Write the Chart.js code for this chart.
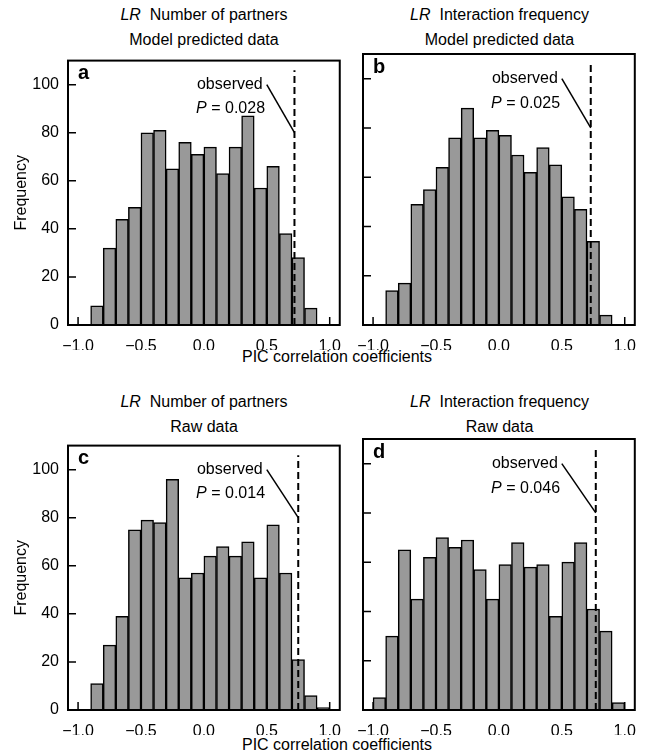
<!DOCTYPE html>
<html>
<head>
<meta charset="utf-8">
<script src="https://cdn.jsdelivr.net/npm/chart.js@4"></script>
<style>
  html, body { margin: 0; padding: 0; background: #fff; }
  body { width: 646px; height: 756px; position: relative; overflow: hidden;
         font-family: "Liberation Sans", Arial, sans-serif; color: #000; }
  canvas { position: absolute; }
  .ttl { position: absolute; text-align: center; font-size: 16px; line-height: 25px; }
  .xlab { position: absolute; width: 300px; text-align: center; font-size: 16px; line-height: 20px; }
</style>
</head>
<body>

<div class="ttl" style="left:68px;width:272px;top:2px">
  <div><i>LR</i>&nbsp; Number of partners</div><div>Model predicted data</div>
</div>
<div class="ttl" style="left:363px;width:273px;top:2px">
  <div><i>LR</i>&nbsp; Interaction frequency</div><div>Model predicted data</div>
</div>
<div class="ttl" style="left:68px;width:272px;top:389px">
  <div><i>LR</i>&nbsp; Number of partners</div><div>Raw data</div>
</div>
<div class="ttl" style="left:363px;width:273px;top:389px">
  <div><i>LR</i>&nbsp; Interaction frequency</div><div>Raw data</div>
</div>
<div class="xlab" style="left:187px;top:347px">PIC correlation coefficients</div>
<div class="xlab" style="left:187px;top:735px">PIC correlation coefficients</div>

<canvas id="pa" style="left:0px;top:50px" width="345" height="300"></canvas>
<canvas id="pb" style="left:340px;top:50px" width="300" height="300"></canvas>
<canvas id="pc" style="left:0px;top:435px" width="345" height="300"></canvas>
<canvas id="pd" style="left:340px;top:435px" width="300" height="300"></canvas>

<script>
// bin centres (bin width 0.1)
const binsAB = [-0.85, -0.75, -0.65, -0.55, -0.45, -0.35, -0.25, -0.15, -0.05,
                0.05, 0.15, 0.25, 0.35, 0.45, 0.55, 0.65, 0.75, 0.85];
const binsC = [-0.85, -0.75, -0.65, -0.55, -0.45, -0.35, -0.25, -0.15, -0.05,
               0.05, 0.15, 0.25, 0.35, 0.45, 0.55, 0.65, 0.75, 0.85, 0.95];
const binsD = [-0.95, -0.85, -0.75, -0.65, -0.55, -0.45, -0.35, -0.25, -0.15, -0.05,
               0.05, 0.15, 0.25, 0.35, 0.45, 0.55, 0.65, 0.75, 0.85, 0.95];

// frequencies per bin
const countsA = [8, 32, 44, 49, 80, 81, 65, 76, 71, 74, 63, 74, 87, 57, 66, 38, 28, 7];
const countsB = [14, 17, 49, 55, 64, 76, 88, 76, 79, 77, 69, 62, 72, 65, 52, 47, 34, 4];
const countsC = [11, 27, 39, 75, 79, 78, 96, 55, 57, 64, 68, 64, 70, 55, 77, 57, 21, 6, 1];
const countsD = [5, 30, 65, 45, 62, 70, 66, 69, 57, 45, 59, 68, 58, 59, 38, 60, 68, 41, 32, 3];

// observed correlation and its P value for each panel
const observedR = [0.72, 0.73, 0.75, 0.77];
const pValues = ['0.028', '0.025', '0.014', '0.046'];
const panelLetters = ['a', 'b', 'c', 'd'];

const xTicks = [-1, -0.5, 0, 0.5, 1];
const yTicks = [0, 20, 40, 60, 80, 100];

const FONT = '"Liberation Sans", Arial, sans-serif';

const fmtX = v => (v < 0 ? '\u2212' : '') + Math.abs(v).toFixed(1);

// dashed observed line, leader, inward ticks, frame and in-panel text
const panelMarks = {
  id: 'panelMarks',
  afterDatasetsDraw(chart, args, opts) {
    const { ctx, chartArea: a, scales: { x, y } } = chart;
    ctx.save();
    ctx.strokeStyle = '#000';
    ctx.fillStyle = '#000';

    const ox = x.getPixelForValue(opts.observed);
    ctx.lineWidth = 2;
    ctx.setLineDash([7, 4]);
    ctx.beginPath();
    ctx.moveTo(ox, y.getPixelForValue(0));
    ctx.lineTo(ox, y.getPixelForValue(106));
    ctx.stroke();
    ctx.setLineDash([]);

    ctx.lineWidth = 1.5;
    ctx.beginPath();
    ctx.moveTo(x.getPixelForValue(0.5), y.getPixelForValue(100));
    ctx.lineTo(ox, y.getPixelForValue(80));
    ctx.stroke();

    ctx.lineWidth = 1.5;
    ctx.beginPath();
    xTicks.forEach(v => {
      const px = x.getPixelForValue(v);
      ctx.moveTo(px, a.bottom);
      ctx.lineTo(px, a.bottom - 8);
    });
    yTicks.forEach(v => {
      const py = y.getPixelForValue(v);
      ctx.moveTo(a.left, py);
      ctx.lineTo(a.left + 8, py);
    });
    ctx.stroke();

    ctx.lineWidth = 2;
    ctx.strokeRect(a.left, a.top, a.right - a.left, a.bottom - a.top);

    ctx.font = 'bold 20px ' + FONT;
    ctx.textAlign = 'left';
    ctx.textBaseline = 'alphabetic';
    ctx.fillText(opts.letter, a.left + 10, a.top + 18.5);

    ctx.font = '16px ' + FONT;
    ctx.textAlign = 'right';
    ctx.textBaseline = 'middle';
    ctx.fillText('observed', x.getPixelForValue(0.468), y.getPixelForValue(100));

    ctx.textAlign = 'left';
    const px0 = x.getPixelForValue(-0.062);
    const py0 = y.getPixelForValue(90);
    ctx.font = 'italic 16px ' + FONT;
    ctx.fillText('P', px0, py0);
    const w = ctx.measureText('P').width;
    ctx.font = '16px ' + FONT;
    ctx.fillText(' = ' + opts.p, px0 + w, py0);
    ctx.restore();
  }
};

function makePanel(id, bins, counts, idx, showY) {
  new Chart(document.getElementById(id), {
    type: 'bar',
    data: {
      datasets: [{
        data: bins.map((b, i) => ({ x: b, y: counts[i] })),
        backgroundColor: '#999999',
        borderColor: '#000',
        borderWidth: 1.5,
        borderSkipped: 'bottom',
        barPercentage: 1,
        categoryPercentage: 1
      }]
    },
    options: {
      responsive: false,
      animation: false,
      events: [],
      layout: { padding: { left: showY ? 0 : 23, right: showY ? 5 : 4, top: 4, bottom: 0 } },
      plugins: {
        legend: { display: false },
        tooltip: { enabled: false },
        panelMarks: { observed: observedR[idx], p: pValues[idx], letter: panelLetters[idx] }
      },
      scales: {
        x: {
          type: 'linear',
          min: -1.08,
          max: 1.08,
          offset: false,
          grid: { display: false },
          border: { display: false },
          afterBuildTicks: s => { s.ticks = xTicks.map(v => ({ value: v })); },
          afterFit: s => { s.height = 25; },
          ticks: {
            color: '#000',
            padding: 4,
            maxRotation: 0,
            autoSkip: false,
            font: { family: FONT, size: 16 },
            callback: v => fmtX(v)
          }
        },
        y: {
          display: showY,
          min: 0,
          max: 110,
          grid: { display: false },
          border: { display: false },
          afterBuildTicks: s => { s.ticks = yTicks.map(v => ({ value: v })); },
          afterFit: s => { s.width = showY ? 68 : 0; },
          title: {
            display: true,
            text: 'Frequency',
            color: '#000',
            font: { family: FONT, size: 16 },
            padding: { top: 12, bottom: 0 }
          },
          ticks: {
            color: '#000',
            padding: 1,
            font: { family: FONT, size: 16 }
          }
        }
      }
    },
    plugins: [panelMarks]
  });
}

makePanel('pa', binsAB, countsA, 0, true);
makePanel('pb', binsAB, countsB, 1, false);
makePanel('pc', binsC, countsC, 2, true);
makePanel('pd', binsD, countsD, 3, false);
</script>
</body>
</html>
